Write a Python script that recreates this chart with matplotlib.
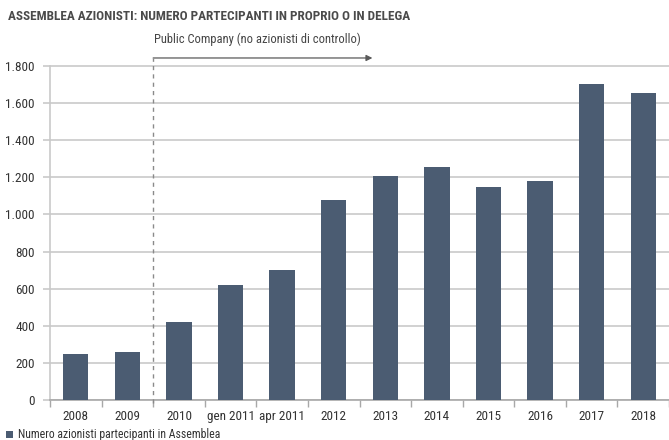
import matplotlib
matplotlib.use("Agg")
import matplotlib.pyplot as plt
from matplotlib.patches import Rectangle

categories = ["2008", "2009", "2010", "gen 2011", "apr 2011", "2012", "2013",
              "2014", "2015", "2016", "2017", "2018"]
values = [248, 257, 420, 620, 700, 1080, 1205, 1254, 1149, 1178, 1705, 1656]
yticks = [0, 200, 400, 600, 800, 1000, 1200, 1400, 1600, 1800]
ytick_labels = ["0", "200", "400", "600", "800", "1.000", "1.200", "1.400", "1.600", "1.800"]

title = "ASSEMBLEA AZIONISTI: NUMERO PARTECIPANTI IN PROPRIO O IN DELEGA"
annotation = "Public Company (no azionisti di controllo)"
legend_label = "Numero azionisti partecipanti in Assemblea"

FONT = ["Roboto Condensed", "Lato", "DejaVu Sans"]
plt.rcParams["font.family"] = FONT

bar_color = "#4b5c72"
grid_color = "#c9c9c9"
text_color = "#333333"

W, H = 669, 440
fig = plt.figure(figsize=(W / 100, H / 100), dpi=100)
ax_left, ax_right = 50, 669
ax_bottom, ax_top = 400, 50
ax = fig.add_axes([ax_left / W, 1 - ax_bottom / H, (ax_right - ax_left) / W, (ax_bottom - ax_top) / H])

x = list(range(len(categories)))
ax.bar(x, values, width=0.49, color=bar_color, zorder=3)

ax.set_xlim(-0.5, 11.336)
ax.set_ylim(0, 1886)

ax.set_yticks(yticks)
ax.set_yticklabels(ytick_labels, fontsize=9.5, color=text_color)
ax.yaxis.grid(True, color=grid_color, linewidth=1.2, zorder=0)
ax.tick_params(axis="y", length=5, color=grid_color, width=1.2, pad=6)

ax.set_xticks(x)
ax.set_xticklabels(categories, fontsize=9.5, color=text_color)
ax.tick_params(axis="x", length=0, pad=7)
ax.set_xticks([i - 0.5 for i in range(len(categories) + 1)], minor=True)
ax.tick_params(axis="x", which="minor", length=5, color="#a8a8a8", width=1)

for s in ["top", "right"]:
    ax.spines[s].set_visible(False)
ax.spines["left"].set_bounds(0, 1800)
ax.spines["left"].set_color(grid_color)
ax.spines["left"].set_linewidth(1.2)
ax.spines["bottom"].set_color("#a8a8a8")
ax.spines["bottom"].set_linewidth(1.2)

# dashed separator and arrow
ax.plot([1.5, 1.5], [-15, 1843], linestyle=(0, (3, 3)), color="#8a8a8a",
        linewidth=1, clip_on=False, zorder=4)
ax.annotate("", xy=(5.75, 1843), xytext=(1.5, 1843),
            arrowprops=dict(arrowstyle="-|>", color="#5a5a5a", lw=0.9,
                            mutation_scale=9, shrinkA=0, shrinkB=0),
            annotation_clip=False)
ax.text(1.515, 1905, annotation, fontsize=9, color="#444444", ha="left", va="bottom",
        clip_on=False)

# title
fig.text(8 / W, 1 - 17 / H, title, fontsize=9.5, fontweight="bold", color="#4a4a4a",
         ha="left", va="center")

# legend
fig.patches.append(Rectangle((6 / W, 1 - 438 / H), 7 / W, 7 / H, transform=fig.transFigure,
                             facecolor=bar_color, edgecolor="none"))
fig.text(18 / W, 1 - 434.5 / H, legend_label, fontsize=8.5, color=text_color,
         ha="left", va="center")

fig.savefig("out.png", dpi=100)
